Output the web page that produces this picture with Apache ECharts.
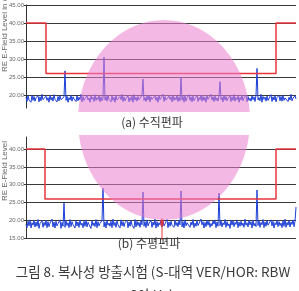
<!DOCTYPE html>
<html>
<head>
<meta charset="utf-8">
<script src="https://cdn.jsdelivr.net/npm/echarts@6/dist/echarts.min.js"></script>
<style>
html, body { margin: 0; padding: 0; background: #fff; }
#main { width: 299px; height: 291px; }
</style>
</head>
<body>
<div id="main"></div>
<script>
// 한계선 (limit line), sample index / dBuV/m
var limitValues = [40, 40, 26, 26, 40, 40];
var limitIdxA = [0, 20, 20, 250, 250, 270];
var limitIdxB = [0, 19, 19, 250, 250, 270];

// (a) 수직편파 측정값
var noiseA = [
    19.4, 18.2, 19.8, 18.6, 19.1, 18.0, 20.0, 18.5, 19.6, 18.3,
    19.2, 18.8, 19.9, 18.1, 19.5, 18.4, 20.2, 18.7, 19.0, 18.2,
    19.7, 18.5, 19.3, 18.0, 19.9, 18.6, 19.4, 18.3, 20.1, 18.8,
    19.2, 18.1, 19.6, 18.4, 19.8, 18.7, 19.0, 18.2, 19.5, 26.7,
    18.5, 19.7, 18.0, 19.3, 18.6, 20.0, 18.3, 19.5, 18.9, 19.1,
    18.2, 19.8, 18.4, 19.4, 18.7, 20.2, 18.1, 19.6, 18.5, 19.0,
    18.3, 19.9, 18.6, 19.2, 18.0, 19.7, 18.8, 19.4, 18.2, 20.1,
    18.5, 19.3, 18.7, 19.8, 18.1, 19.5, 18.4, 19.0, 30.5, 18.6,
    19.6, 18.3, 20.0, 18.8, 19.2, 18.1, 19.7, 18.5, 19.4, 18.0,
    19.9, 18.6, 19.1, 18.3, 19.6, 18.7, 20.2, 18.2, 19.5, 18.4,
    19.0, 18.8, 19.8, 18.1, 19.3, 18.5, 19.7, 18.0, 20.1, 18.6,
    19.4, 18.3, 19.6, 18.7, 19.2, 18.4, 19.9, 24.4, 18.5, 19.3,
    18.2, 19.7, 18.6, 20.0, 18.1, 19.5, 18.8, 19.1, 18.3, 19.8,
    18.5, 19.4, 18.0, 19.9, 18.7, 19.2, 18.4, 20.2, 18.2, 19.6,
    18.6, 19.0, 18.3, 19.7, 18.8, 19.5, 18.1, 20.0, 18.5, 19.3,
    18.7, 19.8, 18.2, 19.4, 18.4, 24.9, 18.6, 19.6, 18.0, 19.9,
    18.3, 19.2, 18.8, 20.1, 18.5, 19.5, 18.1, 19.7, 18.4, 19.0,
    18.6, 19.9, 18.2, 19.3, 18.7, 20.0, 18.3, 19.6, 18.5, 19.4,
    18.0, 19.8, 18.8, 19.1, 18.4, 20.2, 18.6, 19.5, 18.2, 19.7,
    18.5, 19.2, 18.3, 19.9, 23.7, 18.7, 19.4, 18.1, 20.0, 18.6,
    19.6, 18.4, 19.0, 18.8, 19.8, 18.2, 19.5, 18.5, 20.1, 18.3,
    19.3, 18.7, 19.7, 18.0, 19.4, 18.6, 19.9, 18.4, 19.2, 18.8,
    20.0, 18.1, 19.6, 18.5, 19.1, 18.3, 19.8, 18.7, 19.5, 18.2,
    19.9, 27.4, 18.6, 19.3, 18.4, 20.2, 18.0, 19.6, 18.8, 19.4,
    18.3, 19.7, 18.5, 19.0, 18.7, 20.1, 18.2, 19.5, 18.6, 19.8,
    18.1, 19.3, 18.8, 19.9, 18.4, 19.6, 18.3, 20.0, 18.5, 19.2,
    18.7, 19.7, 18.2, 19.4, 18.6, 20.2, 18.4, 19.1, 18.8, 19.8,
    18.9
];

// (b) 수평편파 측정값
var noiseB = [
    18.8, 17.9, 19.7, 18.4, 20.1, 17.8, 19.3, 18.6, 19.9, 18.1,
    19.5, 18.3, 20.2, 17.7, 19.1, 18.7, 19.8, 18.0, 19.4, 18.5,
    20.0, 17.9, 19.6, 18.2, 19.2, 18.8, 20.3, 18.1, 19.5, 17.8,
    19.7, 18.4, 19.0, 18.6, 20.1, 17.7, 19.4, 18.3, 24.8, 18.0,
    19.8, 18.5, 19.3, 17.9, 20.2, 18.2, 19.6, 18.7, 19.1, 17.8,
    19.9, 18.4, 19.5, 18.0, 20.0, 18.6, 19.2, 17.9, 19.7, 18.3,
    20.1, 18.1, 19.4, 18.8, 19.0, 17.7, 19.8, 18.5, 19.3, 18.2,
    20.2, 17.9, 19.6, 18.4, 19.1, 18.7, 19.9, 29.0, 18.1, 19.5,
    17.8, 20.0, 18.6, 19.2, 18.3, 19.7, 17.9, 20.3, 18.5, 19.4,
    18.0, 19.8, 18.7, 19.1, 17.8, 20.1, 18.4, 19.6, 18.2, 19.3,
    18.8, 20.0, 17.9, 19.5, 18.3, 19.9, 18.6, 19.0, 17.7, 20.2,
    18.1, 19.7, 18.5, 19.4, 18.0, 19.8, 18.7, 27.9, 18.3, 19.6,
    17.9, 20.1, 18.4, 19.2, 18.8, 19.9, 18.0, 19.5, 18.6, 20.3,
    17.8, 19.6, 18.2, 19.3, 18.7, 20.0, 18.1, 19.8, 18.4, 19.0,
    18.9, 20.2, 17.9, 19.5, 18.3, 19.7, 18.6, 19.1, 18.0, 20.0,
    18.5, 19.4, 18.2, 19.9, 18.7, 28.2, 18.1, 19.6, 17.8, 20.1,
    18.4, 19.3, 18.8, 19.8, 18.0, 19.5, 18.6, 20.2, 17.9, 19.2,
    18.3, 19.9, 18.5, 19.0, 18.1, 20.3, 18.7, 19.6, 17.8, 19.4,
    18.2, 20.0, 18.6, 19.7, 18.0, 19.1, 18.4, 19.8, 18.9, 20.1,
    17.9, 19.5, 18.3, 27.6, 18.5, 19.9, 18.1, 19.3, 18.7, 20.2,
    18.0, 19.6, 18.4, 19.0, 17.7, 20.0, 18.6, 19.8, 18.2, 19.4,
    18.8, 20.1, 17.9, 19.5, 18.3, 19.7, 18.5, 19.2, 18.0, 20.3,
    18.6, 19.3, 18.1, 19.9, 18.7, 19.6, 17.8, 20.0, 18.4, 19.1,
    18.2, 28.5, 18.5, 19.8, 18.0, 19.4, 18.7, 20.2, 17.9, 19.5,
    18.3, 19.9, 18.6, 19.0, 18.1, 20.1, 18.4, 19.7, 17.8, 19.3,
    18.7, 20.0, 18.2, 19.6, 18.5, 19.2, 17.9, 19.8, 18.3, 20.3,
    18.0, 19.4, 18.6, 19.9, 18.1, 19.5, 18.8, 20.1, 18.2, 19.7,
    23.7
];

var tickA = [20, 25, 30, 35, 40, 45];
var tickB = [15, 20, 25, 30, 35, 40];

// 마커 (b)
var markerIdx = 136;
var markerVals = [14.4, 19.3, 20.6];

var yName = 'RE E-Field Level in dBuV/m';

function pairs(xs, ys) {
    return ys.map(function (v, i) { return [xs[i], v]; });
}
function indexed(ys) {
    return ys.map(function (v, i) { return [i, v]; });
}

function yAxisOf(idx, min, max, ticks) {
    return {
        type: 'value',
        gridIndex: idx,
        min: min,
        max: max,
        axisLine: { show: true, lineStyle: { color: '#333', width: 1 } },
        axisTick: { show: true, length: 2, customValues: ticks, lineStyle: { color: '#333' } },
        axisLabel: {
            customValues: ticks,
            fontSize: 6,
            color: '#666',
            margin: 2,
            fontFamily: 'Liberation Sans',
            formatter: function (v) { return v.toFixed(2); }
        },
        splitLine: { show: true, lineStyle: { color: '#3a3a3a', width: 1 } }
    };
}

function xAxisOf(idx) {
    return { type: 'value', gridIndex: idx, min: 0, max: 270, show: false };
}

var blue = '#1d3fd6';
var red = '#e8353b';

function nameText(y, w) {
    return {
        type: 'text', x: 5, y: y, rotation: Math.PI / 2, z: 100,
        style: {
            text: yName, fontSize: 8, fill: '#666', fontFamily: 'Liberation Sans',
            textAlign: 'left', textVerticalAlign: 'middle',
            width: w, overflow: 'truncate', ellipsis: ''
        }
    };
}

function caption(x, y, text, size) {
    return {
        type: 'text', x: x, y: y, z: 100,
        style: {
            text: text, fontSize: size, fill: '#3a3a3a', fontFamily: 'Noto Sans CJK KR',
            textAlign: 'center', textVerticalAlign: 'middle'
        }
    };
}

// 분홍 강조 타원 (캡션 띠 부분은 비워 둠)
function blobPiece(y0, y1) {
    var cx = 164, cy = 120, rx = 86, ry = 100;
    var left = [], right = [];
    for (var y = y0; y <= y1; y += 1) {
        var d = (y - cy) / ry;
        var hw = rx * Math.sqrt(Math.max(0, 1 - d * d));
        left.push([cx - hw, y]);
        right.unshift([cx + hw, y]);
    }
    return {
        type: 'polygon', z: 100, silent: true,
        shape: { points: left.concat(right) },
        style: { fill: '#eb7ece', opacity: 0.55 }
    };
}

var myChart = echarts.init(document.getElementById('main'));
var option = {
    animation: false,
    backgroundColor: '#fff',
    grid: [
        { left: 26, right: 3, top: 5, height: 103 },
        { left: 26, right: 3, top: 137, height: 101 }
    ],
    xAxis: [xAxisOf(0), xAxisOf(1)],
    yAxis: [yAxisOf(0, 16.4, 45, tickA), yAxisOf(1, 15, 43.4, tickB)],
    series: [
        {
            type: 'line', xAxisIndex: 0, yAxisIndex: 0, symbol: 'none',
            lineStyle: { color: blue, width: 1 }, data: indexed(noiseA)
        },
        {
            type: 'line', xAxisIndex: 0, yAxisIndex: 0, symbol: 'none',
            lineStyle: { color: red, width: 1.5 }, data: pairs(limitIdxA, limitValues)
        },
        {
            type: 'line', xAxisIndex: 1, yAxisIndex: 1, symbol: 'none',
            lineStyle: { color: blue, width: 1 }, data: indexed(noiseB)
        },
        {
            type: 'line', xAxisIndex: 1, yAxisIndex: 1, symbol: 'none',
            lineStyle: { color: red, width: 1.5 }, data: pairs(limitIdxB, limitValues)
        },
        {
            type: 'line', xAxisIndex: 1, yAxisIndex: 1, clip: false,
            lineStyle: { color: red, width: 1 },
            itemStyle: { color: red },
            data: markerVals.map(function (v, i) {
                return {
                    value: [markerIdx, v],
                    symbol: i === 1 ? 'rect' : 'none',
                    symbolSize: [3, 6]
                };
            })
        }
    ],
    graphic: [
        nameText(72, 90),
        nameText(201, 63),
        blobPiece(20, 112),
        blobPiece(135, 220),
        caption(152, 122, '(a) 수직편파', 12),
        caption(149, 243, '(b) 수평편파', 12),
        caption(153, 272, '그림 8. 복사성 방출시험 (S-대역 VER/HOR: RBW', 13.5),
        caption(152, 295, '30kHz)', 13.5)
    ]
};
if (option && typeof option === 'object') {
    myChart.setOption(option, true);
}
</script>
</body>
</html>
